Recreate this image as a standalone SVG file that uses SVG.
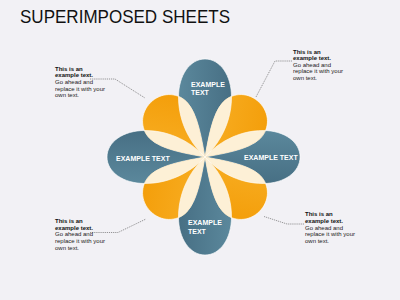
<svg xmlns="http://www.w3.org/2000/svg" xmlns:xlink="http://www.w3.org/1999/xlink" width="400" height="300" viewBox="0 0 400 300">
<defs>
<style>
.title{font-family:"Liberation Sans",Arial,sans-serif;font-size:18px;fill:#111}
.cb{font-family:"Liberation Sans",Arial,sans-serif;font-size:6px;font-weight:bold;fill:#111}
.cn{font-family:"Liberation Sans",Arial,sans-serif;font-size:6px;fill:#222}
.lbl{font-family:"Liberation Sans",Arial,sans-serif;font-size:7px;font-weight:bold;fill:#fff}
.blue{fill:url(#gBlue);stroke:#ffffff;stroke-width:0.8;stroke-opacity:0.8}
.orange{fill:url(#gOrange);stroke:#ffffff;stroke-width:0.8;stroke-opacity:0.8}
.cream{fill:#fdf0d6;stroke:#ffffff;stroke-width:0.6}
.conn{fill:none;stroke:#555;stroke-width:0.6;stroke-dasharray:1.2 0.9}
</style>
<linearGradient id="gBlue" x1="0" y1="0" x2="0" y2="1">
<stop offset="0" stop-color="#5b889c"/>
<stop offset="1" stop-color="#476f84"/>
</linearGradient>
<linearGradient id="gOrange" x1="0" y1="0" x2="1" y2="1">
<stop offset="0" stop-color="#f9b229"/>
<stop offset="1" stop-color="#f39c07"/>
</linearGradient>
<path id="bp" d="M0,0 C12,-13 33,-26.5 60,-26.5 C82,-26.5 98,-15 98,0 C98,15 82,26.5 60,26.5 C33,26.5 12,13 0,0 Z"/>
<path id="op" d="M0,0 C14,-9.5 36,-26 52,-26 C66.4,-26 77,-14.4 77,0 C77,14.4 66.4,26 52,26 C36,26 14,9.5 0,0 Z"/>
<clipPath id="clipOrange">
<use xlink:href="#op" transform="translate(205,157) rotate(-45)"/>
<use xlink:href="#op" transform="translate(205,157) rotate(45)"/>
<use xlink:href="#op" transform="translate(205,157) rotate(135)"/>
<use xlink:href="#op" transform="translate(205,157) rotate(-135)"/>
</clipPath>
</defs>
<rect width="400" height="300" fill="#f2f1f5"/>
<text class="title" x="20" y="23" textLength="210" lengthAdjust="spacingAndGlyphs">SUPERIMPOSED SHEETS</text>

<g id="connectors">
<path class="conn" d="M90,79 H115 L145,98"/>
<path class="conn" d="M292,61 H275 L256,97"/>
<path class="conn" d="M90,232.5 H118 L146,219"/>
<path class="conn" d="M304,224 H287 L264,216.5"/>
</g>

<g id="blue-sheets">
<use id="petal-top" class="blue" xlink:href="#bp" transform="translate(205,157) rotate(-90)"/>
<use id="petal-right" class="blue" xlink:href="#bp" transform="translate(205,157) rotate(0) scale(0.97,1)"/>
<use id="petal-bottom" class="blue" xlink:href="#bp" transform="translate(205,157) rotate(90)"/>
<use id="petal-left" class="blue" xlink:href="#bp" transform="translate(205,157) rotate(180)"/>
</g>
<g id="orange-sheets">
<use id="petal-tr" class="orange" xlink:href="#op" transform="translate(205,157) rotate(-45)"/>
<use id="petal-br" class="orange" xlink:href="#op" transform="translate(205,157) rotate(45)"/>
<use id="petal-bl" class="orange" xlink:href="#op" transform="translate(205,157) rotate(135)"/>
<use id="petal-tl" class="orange" xlink:href="#op" transform="translate(205,157) rotate(-135)"/>
</g>
<g id="overlaps" clip-path="url(#clipOrange)">
<use class="cream" xlink:href="#bp" transform="translate(205,157) rotate(-90)"/>
<use class="cream" xlink:href="#bp" transform="translate(205,157) rotate(0) scale(0.97,1)"/>
<use class="cream" xlink:href="#bp" transform="translate(205,157) rotate(90)"/>
<use class="cream" xlink:href="#bp" transform="translate(205,157) rotate(180)"/>
</g>

<g id="label-top"><text class="lbl" x="191" y="86.5">EXAMPLE</text><text class="lbl" x="191" y="95">TEXT</text></g>
<g id="label-left"><text class="lbl" x="116" y="160.5">EXAMPLE TEXT</text></g>
<g id="label-right"><text class="lbl" x="244" y="160.3">EXAMPLE TEXT</text></g>
<g id="label-bottom"><text class="lbl" x="188" y="225">EXAMPLE</text><text class="lbl" x="188" y="234">TEXT</text></g>

<g id="callout-tl">
<text class="cb" x="55" y="70.5">This is an</text>
<text class="cb" x="55" y="77.2">example text.</text>
<text class="cn" x="55" y="83.9">Go ahead and</text>
<text class="cn" x="55" y="90.6">replace it with your</text>
<text class="cn" x="55" y="97.3">own text.</text>
</g>
<g id="callout-tr">
<text class="cb" x="293" y="53.5">This is an</text>
<text class="cb" x="293" y="60">example text.</text>
<text class="cn" x="293" y="66.6">Go ahead and</text>
<text class="cn" x="293" y="73.2">replace it with your</text>
<text class="cn" x="293" y="79.8">own text.</text>
</g>
<g id="callout-bl">
<text class="cb" x="55" y="223">This is an</text>
<text class="cb" x="55" y="229.7">example text.</text>
<text class="cn" x="55" y="236.4">Go ahead and</text>
<text class="cn" x="55" y="243.1">replace it with your</text>
<text class="cn" x="55" y="249.8">own text.</text>
</g>
<g id="callout-br">
<text class="cb" x="305" y="216.3">This is an</text>
<text class="cb" x="305" y="222.6">example text.</text>
<text class="cn" x="305" y="229.5">Go ahead and</text>
<text class="cn" x="305" y="236.2">replace it with your</text>
<text class="cn" x="305" y="242.9">own text.</text>
</g>
</svg>
